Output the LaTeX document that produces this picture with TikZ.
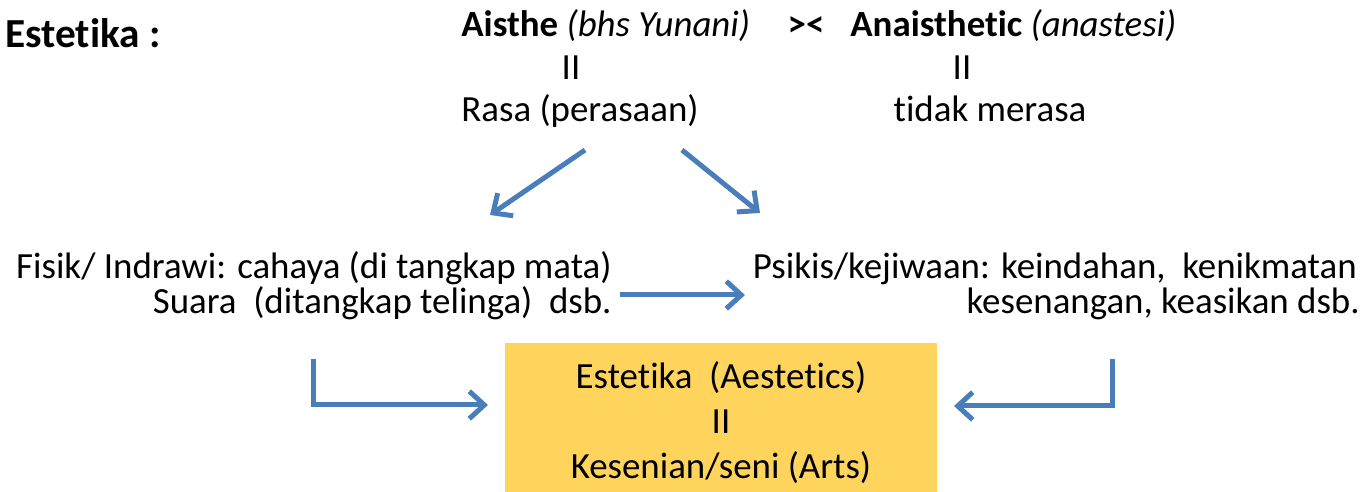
\documentclass[tikz,border=0pt]{standalone}
\usepackage{fontspec}
\setmainfont{Carlito}[Ligatures=NoCommon]
\usetikzlibrary{arrows.meta}
\definecolor{arrowblue}{RGB}{74,126,187}
\definecolor{boxyellow}{RGB}{254,212,92}
\tikzset{
  txt/.style={inner sep=0pt, font=\fontsize{21}{24}\selectfont},
  arr/.style={draw=arrowblue, line width=0.1cm, -{Straight Barb[length=0.3cm,width=0.55cm]}},
}
\begin{document}
\begin{tikzpicture}[x=0.02cm, y=-0.02cm]
  \useasboundingbox (0,0) rectangle (1367,492);

  % Heading
  \node[txt, anchor=base west, font=\fontsize{23.5}{26}\selectfont\bfseries] (judul) at (5,48) {Estetika :};

  % Top row
  \node[txt, anchor=base west] (aisthe) at (461,37) {\textbf{Aisthe} \textit{(bhs Yunani)}};
  \node[txt, anchor=base] (lawan) at (806,37) {\textbf{><}};
  \node[txt, anchor=base west] (anaisthetic) at (850,37) {\textbf{Anaisthetic} \textit{(anastesi)}};
  \node[txt, anchor=base] (sama1) at (571,80) {II};
  \node[txt, anchor=base] (sama2) at (962,80) {II};
  \node[txt, anchor=base] (rasa) at (580,122) {Rasa (perasaan)};
  \node[txt, anchor=base] (tidak) at (990,122) {tidak merasa};

  % Middle row
  \node[txt, anchor=base east] (fisik) at (612,279) {Fisik/ Indrawi: cahaya (di tangkap mata)};
  \node[txt, anchor=base east] (suara) at (612,314) {Suara\ \ (ditangkap telinga)\ \ dsb.};
  \node[txt, anchor=base east] (psikis) at (1357,279) {Psikis/kejiwaan: keindahan,\ \ kenikmatan};
  \node[txt, anchor=base east] (senang) at (1360,314) {kesenangan, keasikan dsb.};

  % Result box
  \node[fill=boxyellow, minimum width=8.64cm, minimum height=2.98cm, inner sep=0pt] (seni) at (721,417.5) {};
  \node[txt, align=center, font=\fontsize{21}{25.5}\selectfont] (seniTeks) at ([yshift=-0.1cm]seni.center)
    {Estetika\ \ (Aestetics)\\II\\Kesenian/seni (Arts)};

  % Arrow ends
  \coordinate (rasaKiri) at (585,150);
  \coordinate (keFisik) at (490,215);
  \coordinate (rasaKanan) at (682,150);
  \coordinate (kePsikis) at (760,213);
  \coordinate (dariSuara) at (620,295);
  \coordinate (kePsikis2) at (745,295);
  \coordinate (turunKiri) at (313,359);
  \coordinate (masukKiri) at (488,405);
  \coordinate (turunKanan) at (1112,359);
  \coordinate (masukKanan) at (954,406);

  % Arrows
  \draw[arr] (rasaKiri) -- (keFisik);
  \draw[arr] (rasaKanan) -- (kePsikis);
  \draw[arr] (dariSuara) -- (kePsikis2);
  \draw[arr] (turunKiri) |- (masukKiri);
  \draw[arr] (turunKanan) |- (masukKanan);
\end{tikzpicture}
\end{document}
